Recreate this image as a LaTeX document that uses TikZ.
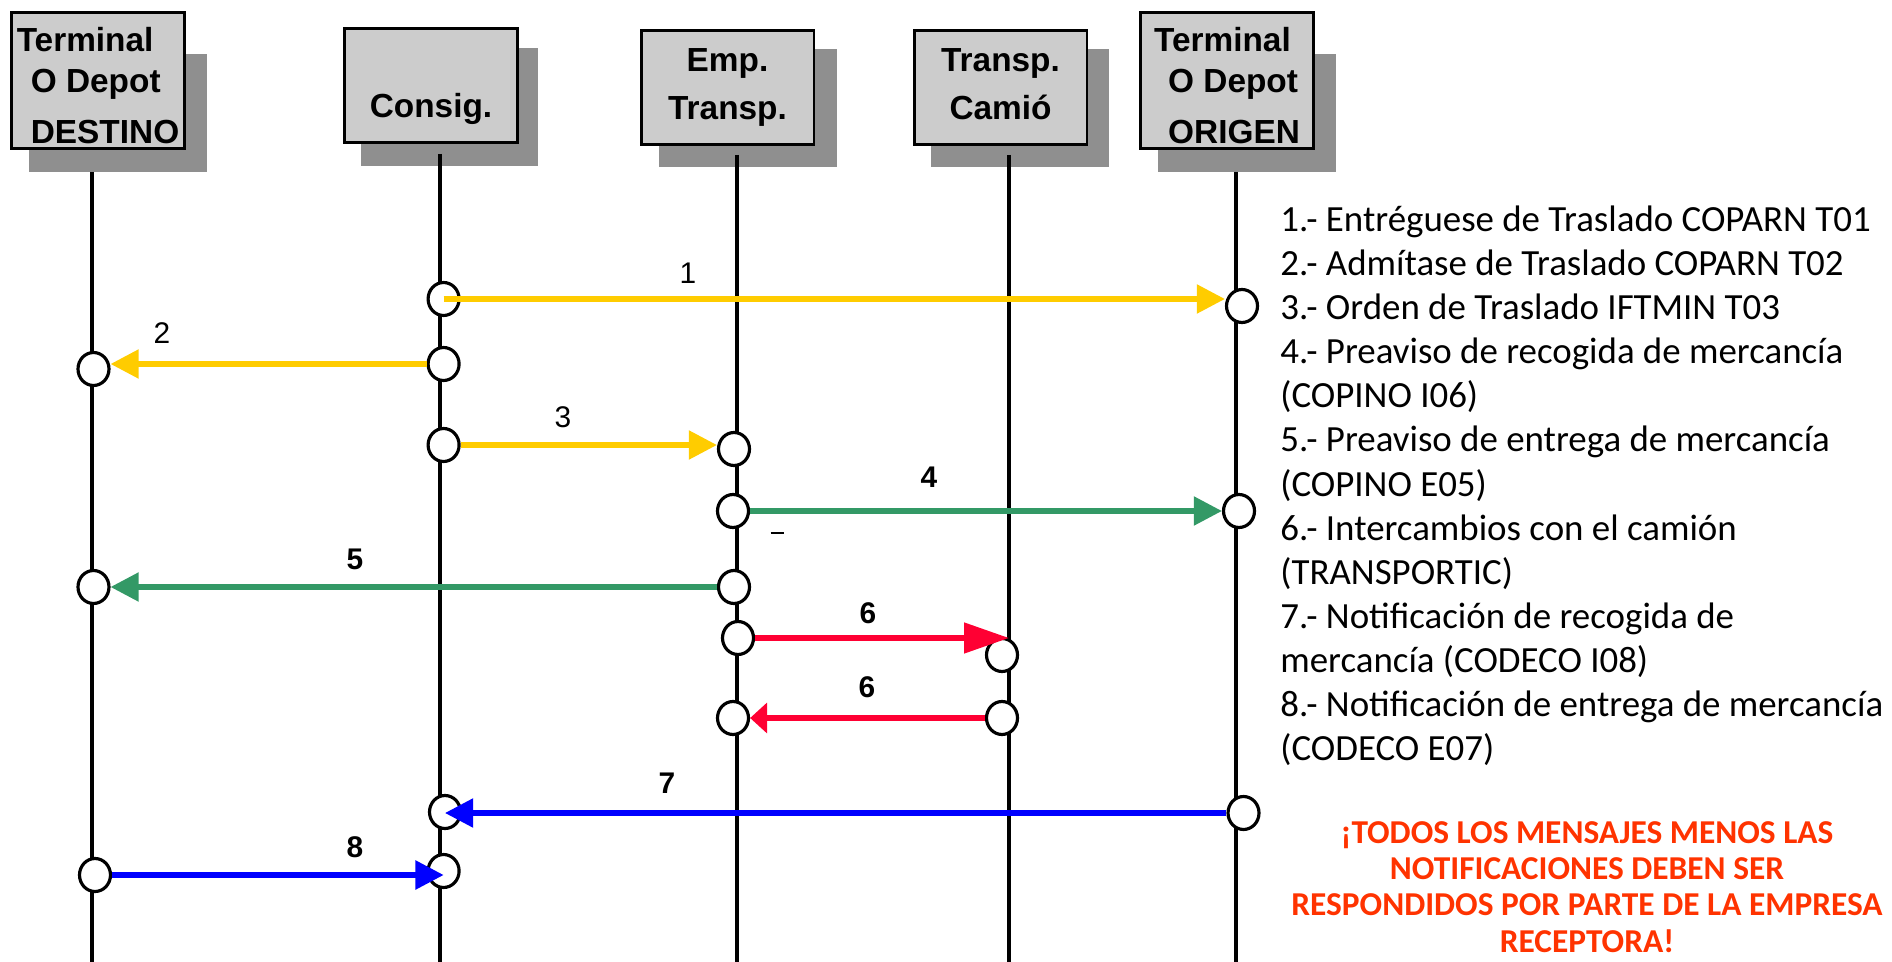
\documentclass[tikz,border=0pt]{standalone}
\usepackage{fontspec}
\setmainfont{Liberation Sans}
\newfontfamily\legendfont{Carlito}
\usetikzlibrary{arrows.meta,shapes.geometric}
\definecolor{boxgray}{HTML}{CCCCCC}
\definecolor{shadowgray}{HTML}{8F8F8F}
\definecolor{msgyellow}{HTML}{FFCC00}
\definecolor{msggreen}{HTML}{339966}
\definecolor{msgred}{HTML}{FF0033}
\definecolor{msgblue}{HTML}{0000FF}
\definecolor{notered}{HTML}{FF3300}
\begin{document}
\begin{tikzpicture}
[x=0.02cm,y=-0.02cm,
  actordecorate/.style={shape=rectangle,draw,line width=1.7pt,fill=boxgray,inner sep=0pt,%
    minimum width=3.46cm,font=\fontsize{19pt}{22.8pt}\selectfont\bfseries},%
  eventdecorate/.style={shape=ellipse,draw,line width=1.8pt,fill=white,inner sep=0pt,%
    minimum width=0.62cm,minimum height=0.66cm},%
  lifedecorate/.style={-,line width=2.2pt},%
  msgdecorate/.style={-{Triangle[length=16pt,width=16pt]},line width=2.9pt},%
  yellowmsg/.style={msgdecorate,color=msgyellow},%
  greenmsg/.style={msgdecorate,color=msggreen},%
  bluemsg/.style={msgdecorate,color=msgblue},%
  redmsg/.style={-{Triangle[length=25.6pt,width=17pt]},line width=2.9pt,color=msgred},%
  replymsg/.style={-{Triangle[length=9.7pt,width=17pt]},line width=2.9pt,color=msgred},%
  numdecorate/.style={inner sep=0pt,font=\fontsize{17pt}{20pt}\selectfont},%
  numbold/.style={inner sep=0pt,font=\fontsize{17pt}{20pt}\selectfont\bfseries},%
  legenddecorate/.style={anchor=base west,inner sep=0pt,font=\legendfont\fontsize{21pt}{24pt}\selectfont},%
  notedecorate/.style={anchor=base,inner sep=0pt,text=notered,font=\legendfont\bfseries\fontsize{19pt}{22pt}\selectfont}]
\useasboundingbox (0,0) rectangle (1892,962);
%% shadows of the actors
\foreach \l/\t/\r/\b in {
  29/54/207/172, 361/48/538/166, 659/49/837/167, 931/49/1109/167, 1158/54/1336/172}
{
  \fill[shadowgray] (\l,\t) rectangle (\r,\b);
}
%% actors
\foreach \nodename/\x/\y/\h/\al/\txt in {
  dest/98/80.5/2.72/left/{\rule{0pt}{20pt}Terminal\\[0.5pt]\hspace*{8pt}O Depot\\[6.2pt]\hspace*{8pt}DESTINO},
  cons/431/85.5/2.28/center/{\strut\\[5pt]Consig.\strut},
  emp/727.5/87.5/2.28/center/{\strut Emp.\\[5pt]Transp.\strut},
  cam/1000.5/87.5/2.28/center/{\strut Transp.\\[5pt]Camió\strut},
  orig/1227/80.5/2.72/left/{\rule{0pt}{20pt}Terminal\\[0.5pt]\hspace*{8pt}O Depot\\[6.2pt]\hspace*{8pt}ORIGEN}}
{
  \node (\nodename) at (\x,\y) [actordecorate,minimum height=\h cm,align=\al] {\txt};
}
%% lifelines
\foreach \nodename/\x/\top in {dest/92/172, cons/440/154, emp/737/155, cam/1009/155, orig/1236/172}
{
  \coordinate (top\nodename) at (\x,\top);
  \coordinate (end\nodename) at (\x,962);
  \draw[lifedecorate] (top\nodename) -- (end\nodename);
}
%% events on the lifelines
\foreach \nodename/\x/\y in {
  c1/443.6/299, o1/1242/306, c2/443.6/364, d2/93.5/369, c3/443.6/445, e3/734/449,
  e4/733/511, o4/1239/511, e5/734/587, d5/93.5/587, e6/738/638, t6/1002/655,
  t6r/1002/718, e6r/733/718, o7/1243.5/813, c7/445/812, d8/95/875, c8/443.6/871}
{
  \node (\nodename) at (\x,\y) [eventdecorate] {};
}
%% messages
\foreach \startnode/\side/\endnode/\msgstyle in {
  c1/center/o1.west/yellowmsg, c2/west/d2.east/yellowmsg, c3/east/e3.west/yellowmsg,
  e4/east/o4.west/greenmsg, e5/west/d5.east/greenmsg,
  e6/east/endcam/redmsg, t6r/west/e6r.east/replymsg,
  o7/west/c7/bluemsg, d8/east/c8/bluemsg}
{
  \draw[\msgstyle] (\startnode.\side) -- (\startnode -| \endnode);
}
%% message numbers
\foreach \nodename/\x/\y/\txt/\wt in {
  n1/688/273/1/numdecorate, n2/162/333/2/numdecorate, n3/563/417/3/numdecorate,
  n4/929/477/4/numbold, n5/355/559/5/numbold, n6/868/613/6/numbold,
  n6r/867/687/6/numbold, n7/667/783/7/numbold, n8/355/847/8/numbold}
{
  \node (\nodename) at (\x,\y) [\wt] {\txt};
}
\node (stray) at (777,533) [inner sep=0pt] {\rule{7.4pt}{0.6pt}};
%% legend
\foreach \k/\txt in {
  0/{1.- Entréguese de Traslado COPARN T01}, 1/{2.- Admítase de Traslado COPARN T02},
  2/{3.- Orden de Traslado IFTMIN T03}, 3/{4.- Preaviso de recogida de mercancía},
  4/{(COPINO I06)}, 5/{5.- Preaviso de entrega de mercancía}, 6/{(COPINO E05)},
  7/{6.- Intercambios con el camión}, 8/{(TRANSPORTIC)},
  9/{7.- Notificación de recogida de}, 10/{mercancía (CODECO I08)},
  11/{8.- Notificación de entrega de mercancía}, 12/{(CODECO E07)}}
{
  \node (leg\k) at (1280,{232+44*\k}) [legenddecorate] {\txt};
}
%% note
\foreach \k/\txt in {
  0/{¡TODOS LOS MENSAJES MENOS LAS}, 1/{NOTIFICACIONES DEBEN SER},
  2/{RESPONDIDOS POR PARTE DE LA EMPRESA}, 3/{RECEPTORA!}}
{
  \node (note\k) at (1587,{843+36.4*\k}) [notedecorate] {\txt};
}
\end{tikzpicture}
\end{document}
